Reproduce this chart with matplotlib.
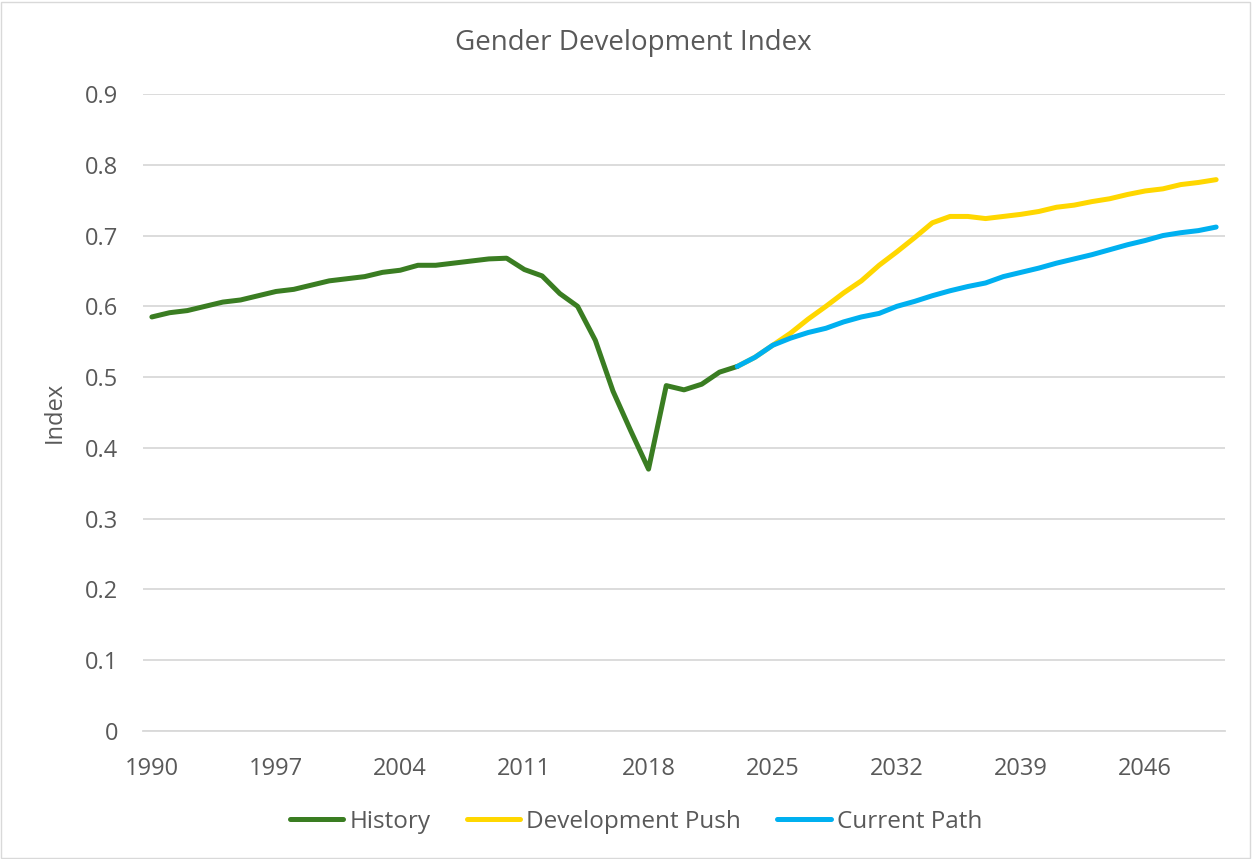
import matplotlib.pyplot as plt
from matplotlib.patches import Rectangle

# data
history_years = list(range(1990, 2024))
history = [0.585, 0.591, 0.594, 0.600, 0.606, 0.609, 0.615, 0.621, 0.624, 0.630,
           0.636, 0.639, 0.642, 0.648, 0.651, 0.658, 0.658, 0.661, 0.664, 0.667,
           0.668, 0.652, 0.643, 0.618, 0.600, 0.552, 0.480, 0.424, 0.370, 0.488,
           0.482, 0.490, 0.507, 0.515]

forecast_years = list(range(2023, 2051))
development_push = [0.515, 0.528, 0.545, 0.562, 0.582, 0.600, 0.619, 0.636, 0.658, 0.677,
                    0.697, 0.718, 0.727, 0.727, 0.724, 0.727, 0.730, 0.734, 0.740, 0.743,
                    0.748, 0.752, 0.758, 0.763, 0.766, 0.772, 0.775, 0.779]
current_path = [0.515, 0.528, 0.545, 0.555, 0.563, 0.569, 0.578, 0.585, 0.590, 0.600,
                0.607, 0.615, 0.622, 0.628, 0.633, 0.642, 0.648, 0.654, 0.661, 0.667,
                0.673, 0.680, 0.687, 0.693, 0.700, 0.704, 0.707, 0.712]

x_ticks = list(range(1990, 2050, 7))
y_ticks = [0, 0.1, 0.2, 0.3, 0.4, 0.5, 0.6, 0.7, 0.8, 0.9]

plt.rcParams['font.family'] = ['Open Sans', 'DejaVu Sans']
text_color = '#595959'
grid_color = '#D9D9D9'

fig = plt.figure(figsize=(12.53, 8.59), dpi=100)
ax = fig.add_axes([143 / 1253, 1 - 731 / 859, (1225 - 143) / 1253, (731 - 94) / 859])

lw = 3.6
ax.plot(history_years, history, color='#3A7D22', lw=lw, solid_capstyle='round',
        solid_joinstyle='round', label='History', zorder=3)
ax.plot(forecast_years, development_push, color='#FFD700', lw=lw, solid_capstyle='round',
        solid_joinstyle='round', label='Development Push', zorder=2)
ax.plot(forecast_years, current_path, color='#00B0F0', lw=lw, solid_capstyle='round',
        solid_joinstyle='round', label='Current Path', zorder=4)

ax.set_xlim(1989.5, 2050.5)
ax.set_ylim(0, 0.9)
ax.set_xticks(x_ticks)
ax.set_yticks(y_ticks)
ax.set_yticklabels(['0'] + ['%.1f' % v for v in y_ticks[1:]])
ax.tick_params(length=0, labelsize=17, colors=text_color)
ax.tick_params(axis='y', pad=18)
ax.tick_params(axis='x', pad=19)
ax.grid(axis='y', color=grid_color, lw=1.3)
ax.set_axisbelow(True)
for side in ['top', 'right', 'left']:
    ax.spines[side].set_visible(False)
ax.spines['bottom'].set_color(grid_color)
ax.spines['bottom'].set_linewidth(1.3)

ax.set_ylabel('Index', fontsize=17, color=text_color)
ax.yaxis.set_label_coords((67 - 143) / 1082, 0.5)
fig.text(633 / 1253, 1 - 43 / 859, 'Gender Development Index', ha='center', va='center',
         fontsize=20, color=text_color)

fig.legend(loc='center', bbox_to_anchor=(636 / 1253, 1 - 822 / 859), ncol=3, frameon=False,
           fontsize=17.5, labelcolor=text_color, handlelength=2.2, handletextpad=0.25,
           columnspacing=1.5)

fig.patches.append(Rectangle((0.001, 0.001), 0.997, 0.997, transform=fig.transFigure,
                             fill=False, edgecolor=grid_color, lw=1))

fig.savefig('out.png', dpi=100)
